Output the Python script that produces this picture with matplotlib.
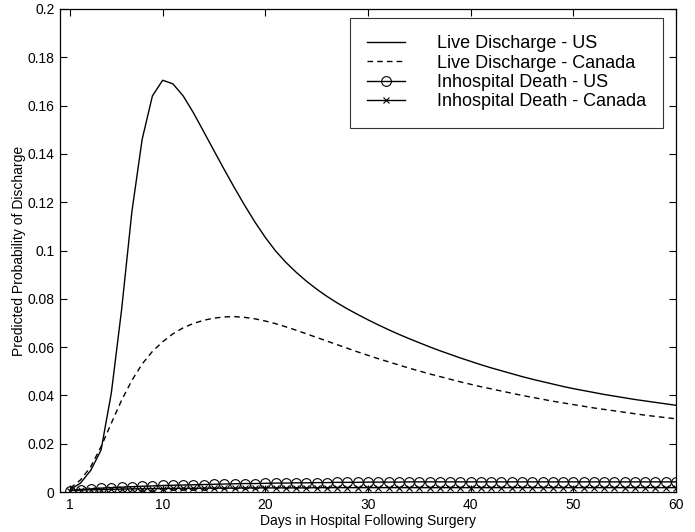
import matplotlib
matplotlib.use('Agg')
import matplotlib.pyplot as plt

plt.rcParams['font.family'] = ['Liberation Sans', 'DejaVu Sans']

days = list(range(1, 61))

live_us = [
    0.0010, 0.0037, 0.0090, 0.0174, 0.0410, 0.0755, 0.1160, 0.1460, 0.1640, 0.1705,
    0.1690, 0.1640, 0.1570, 0.1492, 0.1413, 0.1335, 0.1259, 0.1186, 0.1117, 0.1054,
    0.0998, 0.0951, 0.0910, 0.0873, 0.0840, 0.0810, 0.0783, 0.0758, 0.0735, 0.0713,
    0.0692, 0.0672, 0.0653, 0.0635, 0.0618, 0.0601, 0.0585, 0.0570, 0.0555, 0.0541,
    0.0527, 0.0514, 0.0502, 0.0490, 0.0478, 0.0467, 0.0457, 0.0447, 0.0437, 0.0428,
    0.0420, 0.0412, 0.0404, 0.0397, 0.0390, 0.0383, 0.0377, 0.0371, 0.0365, 0.0359,
]

live_canada = [
    0.0016, 0.0050, 0.0105, 0.0188, 0.0285, 0.0380, 0.0462, 0.0530, 0.0582, 0.0622,
    0.0655, 0.0680, 0.0698, 0.0711, 0.0720, 0.0725, 0.0726, 0.0723, 0.0717, 0.0708,
    0.0697, 0.0684, 0.0670, 0.0655, 0.0640, 0.0625, 0.0610, 0.0595, 0.0580, 0.0566,
    0.0552, 0.0539, 0.0526, 0.0513, 0.0501, 0.0489, 0.0478, 0.0467, 0.0456, 0.0446,
    0.0436, 0.0427, 0.0418, 0.0409, 0.0400, 0.0392, 0.0384, 0.0376, 0.0369, 0.0362,
    0.0355, 0.0348, 0.0342, 0.0336, 0.0330, 0.0324, 0.0318, 0.0313, 0.0308, 0.0303,
]

death_us = [
    0.0006, 0.0010, 0.0013, 0.0016, 0.0018, 0.0020, 0.0022, 0.0024, 0.0025, 0.0027,
    0.0028, 0.0029, 0.0030, 0.0031, 0.0032, 0.0033, 0.0034, 0.0035, 0.0035, 0.0036,
    0.0037, 0.0037, 0.0038, 0.0038, 0.0039, 0.0039, 0.0040, 0.0040, 0.0040, 0.0041,
    0.0041, 0.0041, 0.0041, 0.0042, 0.0042, 0.0042, 0.0042, 0.0042, 0.0042, 0.0042,
    0.0042, 0.0042, 0.0042, 0.0042, 0.0042, 0.0042, 0.0042, 0.0042, 0.0042, 0.0042,
    0.0042, 0.0042, 0.0042, 0.0042, 0.0042, 0.0042, 0.0042, 0.0042, 0.0042, 0.0042,
]

death_canada = [
    0.0006, 0.0008, 0.0009, 0.0010, 0.0011, 0.0012, 0.0013, 0.0013, 0.0014, 0.0014,
    0.0015, 0.0015, 0.0015, 0.0016, 0.0016, 0.0016, 0.0016, 0.0017, 0.0017, 0.0017,
    0.0017, 0.0017, 0.0017, 0.0017, 0.0018, 0.0018, 0.0018, 0.0018, 0.0018, 0.0018,
    0.0018, 0.0018, 0.0018, 0.0018, 0.0018, 0.0018, 0.0018, 0.0018, 0.0018, 0.0018,
    0.0018, 0.0018, 0.0018, 0.0018, 0.0018, 0.0018, 0.0018, 0.0018, 0.0018, 0.0018,
    0.0018, 0.0018, 0.0018, 0.0018, 0.0018, 0.0018, 0.0018, 0.0018, 0.0018, 0.0018,
]

x_ticks = [1, 10, 20, 30, 40, 50, 60]
y_ticks = [0, 0.02, 0.04, 0.06, 0.08, 0.1, 0.12, 0.14, 0.16, 0.18, 0.2]
y_tick_labels = ['0', '0.02', '0.04', '0.06', '0.08', '0.1', '0.12', '0.14', '0.16', '0.18', '0.2']

fig = plt.figure(figsize=(6.95, 5.32), dpi=100)
ax = fig.add_axes([60 / 695, 1 - 492 / 532, 616 / 695, 483 / 532])

ax.plot(days, live_us, color='black', linewidth=1.0, label='Live Discharge - US')
ax.plot(days, live_canada, color='black', linewidth=1.0, linestyle=(0, (4, 3)),
        label='Live Discharge - Canada')
ax.plot(days, death_us, color='black', linewidth=1.0, marker='o', markersize=7,
        markerfacecolor='none', markeredgewidth=0.8, label='Inhospital Death - US')
ax.plot(days, death_canada, color='black', linewidth=1.0, marker='x', markersize=5,
        markeredgewidth=0.8, label='Inhospital Death - Canada')

ax.set_xlim(0, 60)
ax.set_ylim(0, 0.2)
ax.set_xticks(x_ticks)
ax.set_yticks(y_ticks)
ax.set_yticklabels(y_tick_labels)
ax.tick_params(direction='in', top=True, right=True, length=5, width=0.8,
               labelsize=10, pad=4)
for s in ax.spines.values():
    s.set_linewidth(0.9)

ax.set_xlabel('Days in Hospital Following Surgery', fontsize=10, labelpad=2)
ax.set_ylabel('Predicted Probability of Discharge', fontsize=10, labelpad=1)

leg = ax.legend(loc='upper right', fontsize=13, frameon=True, fancybox=False,
                edgecolor='black', handlelength=2.1, handletextpad=1.75,
                borderpad=0.95, labelspacing=0.13, borderaxespad=0,
                bbox_to_anchor=(0.979, 0.981))
leg.get_frame().set_linewidth(0.8)

fig.savefig('out.png', dpi=100)
